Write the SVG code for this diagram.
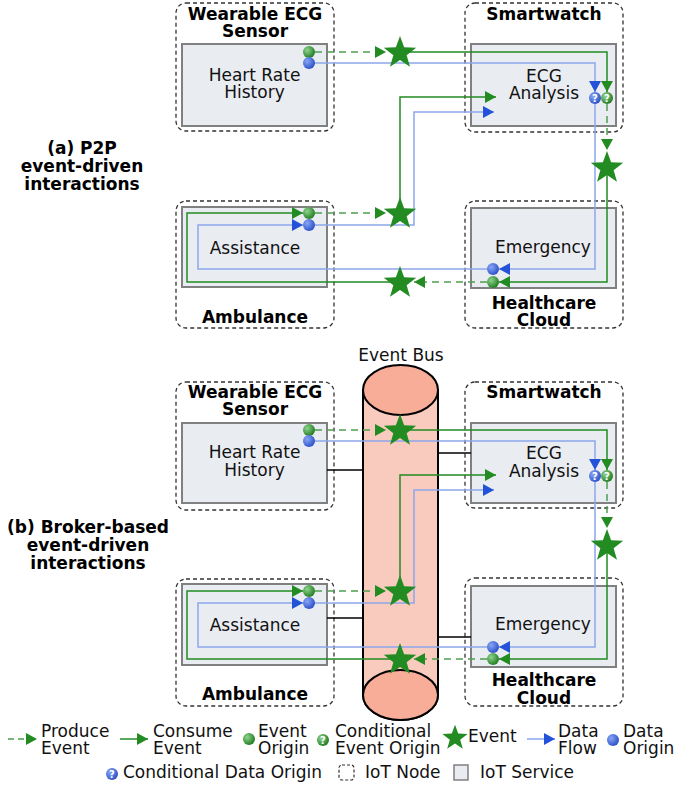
<svg xmlns="http://www.w3.org/2000/svg" width="676" height="785" viewBox="0 0 676 785">
<defs>
<style>
text{font-family:"DejaVu Sans","Liberation Sans",sans-serif;fill:#111}
.title{font-weight:bold;font-size:17px;text-anchor:middle;fill:#000}
.st{font-size:17px;text-anchor:middle}
.lbl{font-weight:bold;font-size:17px;text-anchor:middle;fill:#000}
.leg{font-size:17px}
.node{fill:none;stroke:#333;stroke-width:1.3;stroke-dasharray:4 3}
.svc{fill:#e9ecf1;stroke:#808080;stroke-width:2}
.g{fill:none;stroke:#228b22;stroke-width:1.5}
.gd{fill:none;stroke:#4f9f4f;stroke-width:1.5;stroke-dasharray:7 5}
.b{fill:none;stroke:#8ca6ec;stroke-width:1.5}
.k{fill:none;stroke:#000;stroke-width:1.5}
.ag{marker-end:url(#ag)}
.ab{marker-end:url(#ab)}
</style>
<marker id="ag" markerUnits="userSpaceOnUse" markerWidth="11" markerHeight="12" refX="11" refY="6" orient="auto"><path d="M0,0 L11,6 L0,12 z" fill="#228b22"/></marker>
<marker id="ab" markerUnits="userSpaceOnUse" markerWidth="11" markerHeight="12" refX="11" refY="6" orient="auto"><path d="M0,0 L11,6 L0,12 z" fill="#2352d8"/></marker>
<radialGradient id="gg" cx="0.35" cy="0.35" r="0.7"><stop offset="0" stop-color="#8fd48f"/><stop offset="1" stop-color="#1f7a1f"/></radialGradient>
<radialGradient id="bg" cx="0.35" cy="0.35" r="0.7"><stop offset="0" stop-color="#8aa6f5"/><stop offset="1" stop-color="#2a4fc8"/></radialGradient>
<path id="star" d="M0,-17 L4.11,-5.66 L16.17,-5.25 L6.66,2.16 L9.99,13.75 L0,7 L-9.99,13.75 L-6.66,2.16 L-16.17,-5.25 L-4.11,-5.66 Z" fill="#228b22"/>
<circle id="gdot" r="6" fill="url(#gg)"/>
<circle id="bdot" r="6" fill="url(#bg)"/>
<g id="gq"><circle r="6" fill="url(#gg)"/><text y="3.5" text-anchor="middle" font-size="10" font-weight="bold" fill="#fff" style="fill:#fff">?</text></g>
<g id="bq"><circle r="6" fill="url(#bg)"/><text y="3.5" text-anchor="middle" font-size="10" font-weight="bold" fill="#fff" style="fill:#fff">?</text></g>
</defs>

<!-- section labels -->
<g id="label-a">
<text class="lbl" x="82" y="154">(a) P2P</text>
<text class="lbl" x="82" y="172">event-driven</text>
<text class="lbl" x="82" y="190">interactions</text>
</g>
<g id="label-b">
<text class="lbl" x="88" y="533">(b) Broker-based</text>
<text class="lbl" x="88" y="551">event-driven</text>
<text class="lbl" x="88" y="569">interactions</text>
</g>

<!-- Event bus -->
<g id="event-bus">
<text x="401" y="361" font-size="17" text-anchor="middle" style="font-size:17px">Event Bus</text>
<path d="M363,390 L363,695 A37.5,25 0 0 0 438,695 L438,390 Z" fill="#f9cbbf" stroke="#000" stroke-width="2"/>
<ellipse cx="400.5" cy="695" rx="37.5" ry="25" fill="#f7ad98" stroke="#000" stroke-width="2"/>
<ellipse cx="400.5" cy="390" rx="37.5" ry="25" fill="#f7ad98" stroke="#000" stroke-width="2"/>
</g>

<!-- (a) nodes -->
<g id="wearable-a">
<rect class="node" x="176" y="3" width="158" height="128" rx="10"/>
<text class="title" x="255" y="20">Wearable ECG</text>
<text class="title" x="255" y="37">Sensor</text>
<rect class="svc" x="182" y="44" width="145" height="82"/>
<text class="st" x="254.5" y="81">Heart Rate</text>
<text class="st" x="254.5" y="98">History</text>
</g>
<g id="smartwatch-a">
<rect class="node" x="465" y="3" width="158" height="129" rx="10"/>
<text class="title" x="544" y="20">Smartwatch</text>
<rect class="svc" x="471" y="44" width="145" height="82"/>
<text class="st" x="544" y="82">ECG</text>
<text class="st" x="544" y="99">Analysis</text>
</g>
<g id="ambulance-a">
<rect class="node" x="176" y="201" width="158" height="127" rx="10"/>
<rect class="svc" x="182" y="207" width="145" height="80"/>
<text class="st" x="255" y="254">Assistance</text>
<text class="title" x="255" y="323">Ambulance</text>
</g>
<g id="healthcare-a">
<rect class="node" x="465" y="201" width="158" height="127" rx="10"/>
<rect class="svc" x="471" y="208" width="145" height="80"/>
<text class="st" x="543" y="253">Emergency</text>
<text class="title" x="544" y="309">Healthcare</text>
<text class="title" x="544" y="326">Cloud</text>
</g>

<!-- (b) nodes -->
<g id="wearable-b">
<rect class="node" x="176" y="382" width="158" height="128" rx="10"/>
<text class="title" x="255" y="398">Wearable ECG</text>
<text class="title" x="255" y="415">Sensor</text>
<rect class="svc" x="182" y="423" width="145" height="80"/>
<text class="st" x="254.5" y="458">Heart Rate</text>
<text class="st" x="254.5" y="476">History</text>
</g>
<g id="smartwatch-b">
<rect class="node" x="465" y="382" width="158" height="126" rx="10"/>
<text class="title" x="544" y="398">Smartwatch</text>
<rect class="svc" x="471" y="423" width="145" height="80"/>
<text class="st" x="544" y="459">ECG</text>
<text class="st" x="544" y="477">Analysis</text>
</g>
<g id="ambulance-b">
<rect class="node" x="176" y="579" width="158" height="127" rx="10"/>
<rect class="svc" x="182" y="584" width="145" height="81"/>
<text class="st" x="255" y="631">Assistance</text>
<text class="title" x="255" y="700">Ambulance</text>
</g>
<g id="healthcare-b">
<rect class="node" x="465" y="578" width="158" height="128" rx="10"/>
<rect class="svc" x="471" y="586" width="145" height="81"/>
<text class="st" x="543" y="630">Emergency</text>
<text class="title" x="544" y="686">Healthcare</text>
<text class="title" x="544" y="704">Cloud</text>
</g>

<!-- connectors -->
<g id="connectors">
<!-- (a) -->
<path class="g ag" d="M400,52 H607 V92"/>
<path class="b ab" d="M314,63 H595 V92"/>
<path class="g ag" d="M400,213 V97 H496"/>
<path class="b ab" d="M314,225 H414 V112 H494"/>
<path class="gd ag" d="M315,52 H386"/>
<path class="gd ag" d="M607,104 V150"/>
<path class="g ag" d="M607,167 V282 H499"/>
<path class="b ab" d="M595,104 V269 H499"/>
<path class="gd ag" d="M487,282 H414"/>
<path class="g ag" d="M400,282 H187 V213 H303"/>
<path class="b ab" d="M487,269 H198 V225 H303"/>
<path class="gd ag" d="M315,213 H386"/>
<!-- (b) broker links -->
<path class="k" d="M327,470 H363"/>
<path class="k" d="M438,453 H471"/>
<path class="k" d="M327,618 H363"/>
<path class="k" d="M438,637 H471"/>
<!-- (b) -->
<path class="g ag" d="M400,430 H607 V470"/>
<path class="b ab" d="M314,441 H595 V470"/>
<path class="g ag" d="M400,591 V475 H496"/>
<path class="b ab" d="M314,603 H414 V490 H494"/>
<path class="gd ag" d="M315,430 H386"/>
<path class="gd ag" d="M607,482 V528"/>
<path class="g ag" d="M607,545 V659 H499"/>
<path class="b ab" d="M595,482 V647 H499"/>
<path class="gd ag" d="M487,659 H414"/>
<path class="g ag" d="M400,659 H187 V591 H303"/>
<path class="b ab" d="M487,647 H198 V603 H303"/>
<path class="gd ag" d="M315,591 H386"/>
</g>

<!-- events -->
<g id="events">
<use href="#star" x="400" y="53"/>
<use href="#star" x="400" y="214"/>
<use href="#star" x="607" y="168"/>
<use href="#star" x="400" y="283"/>
<use href="#star" x="400" y="431"/>
<use href="#star" x="400" y="592"/>
<use href="#star" x="607" y="546"/>
<use href="#star" x="400" y="660"/>
</g>

<!-- origins -->
<g id="origins">
<use href="#gdot" x="309" y="52"/>
<use href="#bdot" x="309" y="63"/>
<use href="#bq" x="595" y="98"/>
<use href="#gq" x="607" y="98"/>
<use href="#gdot" x="309" y="213"/>
<use href="#bdot" x="309" y="225"/>
<use href="#bdot" x="493" y="269"/>
<use href="#gdot" x="493" y="282"/>
<use href="#gdot" x="309" y="430"/>
<use href="#bdot" x="309" y="441"/>
<use href="#bq" x="595" y="476"/>
<use href="#gq" x="607" y="476"/>
<use href="#gdot" x="309" y="591"/>
<use href="#bdot" x="309" y="603"/>
<use href="#bdot" x="493" y="647"/>
<use href="#gdot" x="493" y="659"/>
</g>

<!-- legend -->
<g id="legend">
<path class="gd ag" d="M8,739 H37" style="stroke-dasharray:6 4"/>
<text class="leg" x="41" y="737">Produce</text>
<text class="leg" x="41" y="754">Event</text>
<path class="g ag" d="M120,739 H148"/>
<text class="leg" x="153" y="737">Consume</text>
<text class="leg" x="153" y="754">Event</text>
<use href="#gdot" x="249" y="739"/>
<text class="leg" x="258" y="737">Event</text>
<text class="leg" x="258" y="754">Origin</text>
<use href="#gq" x="323" y="740"/>
<text class="leg" x="335" y="737">Conditional</text>
<text class="leg" x="335" y="754">Event Origin</text>
<use href="#star" transform="translate(455,738) scale(0.78)"/>
<text class="leg" x="468" y="742">Event</text>
<path class="b ab" d="M527,739 H555"/>
<text class="leg" x="558" y="737">Data</text>
<text class="leg" x="558" y="754">Flow</text>
<use href="#bdot" x="613" y="740"/>
<text class="leg" x="623" y="737">Data</text>
<text class="leg" x="623" y="754">Origin</text>
<use href="#bq" x="112" y="774"/>
<text class="leg" x="123" y="778">Conditional Data Origin</text>
<rect x="339" y="765" width="15" height="15" rx="3" fill="none" stroke="#333" stroke-width="1.2" stroke-dasharray="3 2"/>
<text class="leg" x="365" y="778">IoT Node</text>
<rect x="454" y="765" width="14" height="15" fill="#e9ecf1" stroke="#808080" stroke-width="1.5"/>
<text class="leg" x="480" y="778">IoT Service</text>
</g>
</svg>
